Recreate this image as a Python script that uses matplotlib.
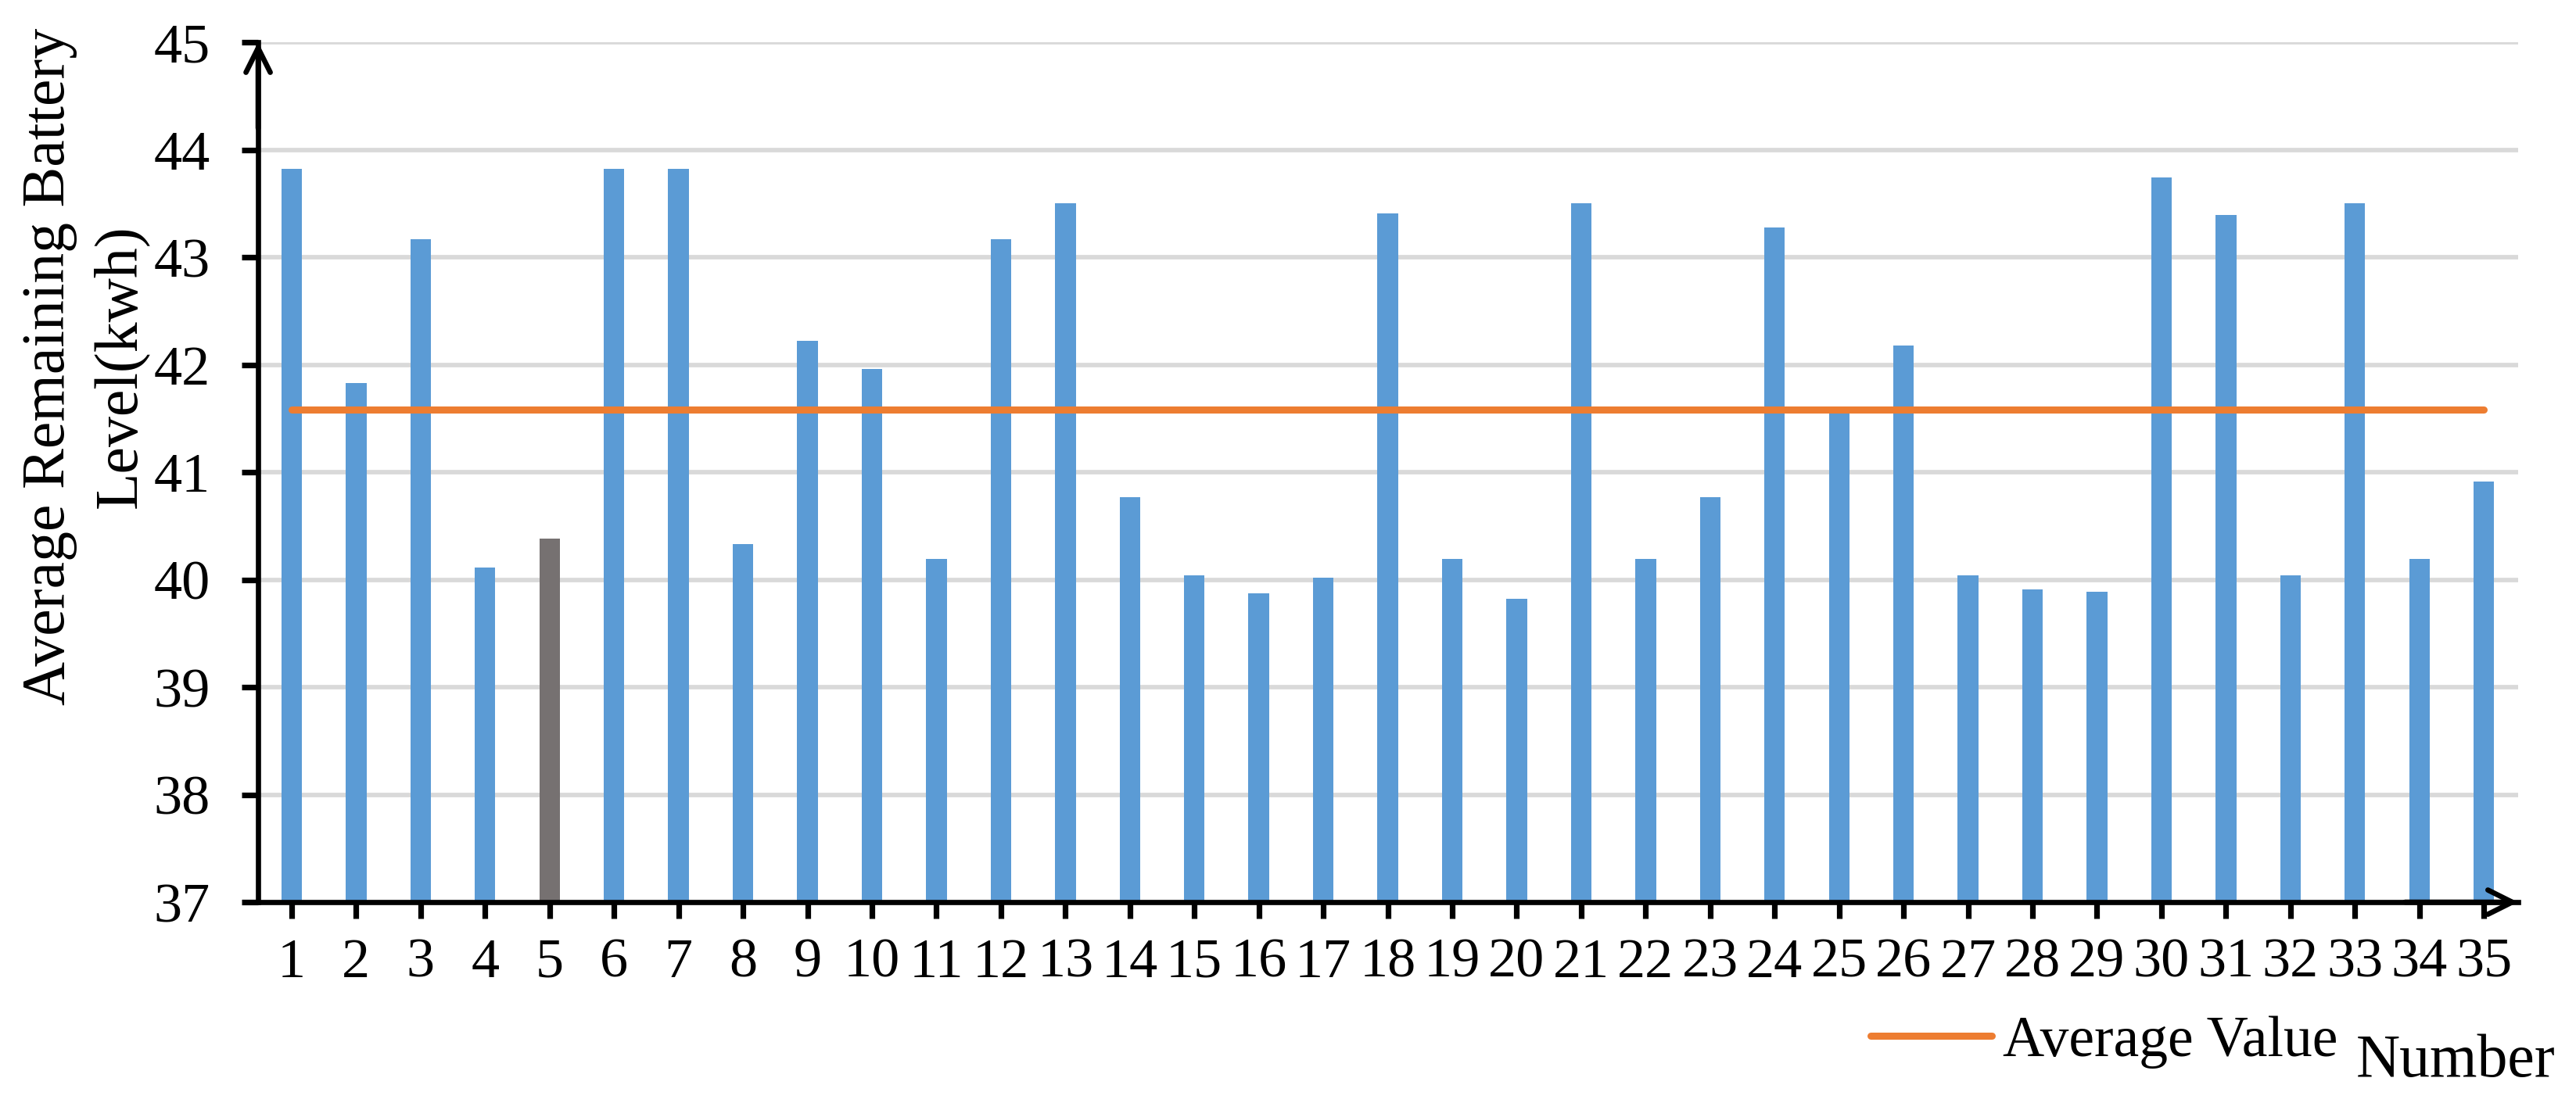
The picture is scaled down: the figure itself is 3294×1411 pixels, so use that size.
import matplotlib
matplotlib.use("Agg")
import matplotlib.pyplot as plt

# values
numbers = list(range(1, 36))
battery_levels = [
    43.82, 41.83, 43.17, 40.11, 40.38, 43.82, 43.82, 40.33, 42.22, 41.96,
    40.19, 43.17, 43.50, 40.77, 40.04, 39.87, 40.02, 43.41, 40.19, 39.82,
    43.50, 40.19, 40.77, 43.28, 41.56, 42.18, 40.04, 39.91, 39.89, 43.74,
    43.39, 40.04, 43.50, 40.19, 40.91,
]
average_value = 41.58
highlight_number = 5
y_ticks = [37, 38, 39, 40, 41, 42, 43, 44, 45]

blue = "#5B9BD5"
orange = "#ED7D31"
gray = "#767171"

plt.rcParams["font.family"] = ["Liberation Serif", "DejaVu Serif"]

fig = plt.figure(figsize=(32.94, 14.11), dpi=100)
ax = fig.add_axes([0.1002, 0.1821, 0.8773, 0.7796])

bar_colors = [gray if n == highlight_number else blue for n in numbers]
ax.bar(numbers, battery_levels, width=0.32, color=bar_colors, zorder=2)
avg_line, = ax.plot([numbers[0], numbers[-1]], [average_value, average_value],
                    color=orange, lw=6.5, solid_capstyle="round", zorder=3,
                    label="Average Value")

ax.set_xlim(0.48, 35.53)
ax.set_ylim(37, 45)
ax.set_xticks(numbers)
ax.set_yticks(y_ticks)
ax.set_axisbelow(True)
ax.yaxis.grid(True, color="#D9D9D9", lw=4.1)

for side in ["top", "right"]:
    ax.spines[side].set_visible(False)
for side in ["left", "bottom"]:
    ax.spines[side].set_linewidth(4.8)

ax.tick_params(axis="both", direction="out", length=15, width=5.2, labelsize=52)
ax.tick_params(axis="x", pad=18)
ax.tick_params(axis="y", pad=29)

# arrow heads on the axes
ax.annotate("", xy=(0, 1), xytext=(0, 0.9), xycoords="axes fraction",
            arrowprops=dict(arrowstyle="->,head_length=1.4,head_width=0.7",
                            lw=4.8, color="black", shrinkA=0, shrinkB=0,
                            mutation_scale=16), annotation_clip=False)
ax.annotate("", xy=(1, 0), xytext=(0.95, 0), xycoords="axes fraction",
            arrowprops=dict(arrowstyle="->,head_length=1.4,head_width=0.7",
                            lw=4.8, color="black", shrinkA=0, shrinkB=0,
                            mutation_scale=16), annotation_clip=False)

fig.text(0.033, 0.668, "Average Remaining Battery\nLevel(kwh)", rotation=90,
         ha="center", va="center", multialignment="center", fontsize=56,
         linespacing=1.34)

fig.legend(handles=[avg_line], loc="center left", bbox_to_anchor=(0.7262, 0.055),
           frameon=False, fontsize=53, handlelength=2.1, handletextpad=0.2,
           borderpad=0, borderaxespad=0)
fig.text(0.9147, 0.0241, "Number", fontsize=56, ha="left", va="baseline")

fig.savefig("out.png", dpi=100)
